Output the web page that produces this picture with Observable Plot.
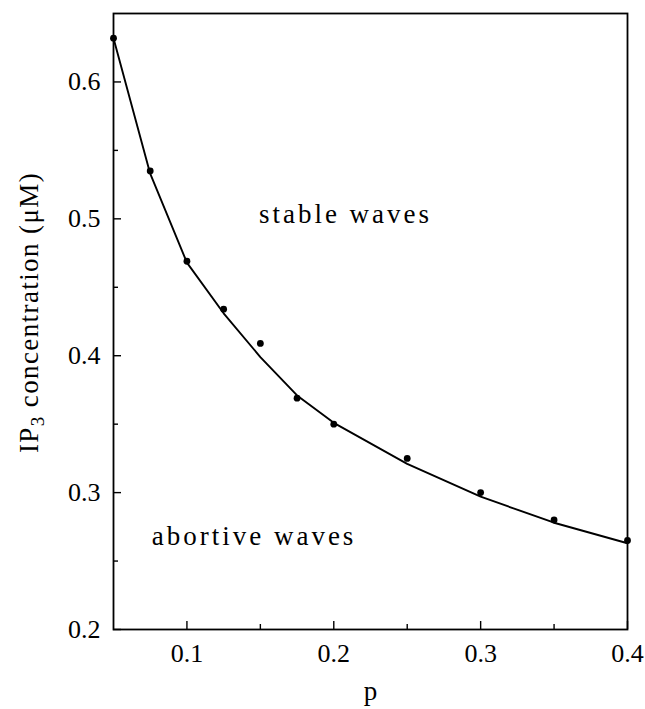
<!DOCTYPE html>
<html>
<head>
<meta charset="utf-8">
<script src="https://cdn.jsdelivr.net/npm/d3@7"></script>
<script src="https://cdn.jsdelivr.net/npm/@observablehq/plot@0.6"></script>
<style>
  html, body { margin: 0; padding: 0; background: white; }
  .region text { letter-spacing: 3px; }
  .ylabel text { letter-spacing: 1.4px; }
</style>
</head>
<body>
<div id="chart"></div>
<script>
// Data
const pValues = [0.05, 0.075, 0.1, 0.125, 0.15, 0.175, 0.2, 0.25, 0.3, 0.35, 0.4];
const ip3Measured = [0.632, 0.535, 0.469, 0.434, 0.409, 0.369, 0.350, 0.325, 0.300, 0.280, 0.265];
const ip3Fit = [0.632, 0.533, 0.468, 0.431, 0.399, 0.371, 0.351, 0.321, 0.297, 0.278, 0.263];

const xMajorTicks = [0.1, 0.2, 0.3, 0.4];
const xMinorTicks = [0.15, 0.25, 0.35];
const yMajorTicks = [0.2, 0.3, 0.4, 0.5, 0.6];
const yMinorTicks = [0.25, 0.35, 0.45, 0.55];

const regionLabels = ["stable waves", "abortive waves"];
const regionX = [0.149, 0.076];
const regionY = [0.503, 0.268];

const xLabel = "p";
const yLabel = "IP3 concentration (μM)";

const measured = pValues.map((p, i) => ({p, c: ip3Measured[i]}));
const fit = pValues.map((p, i) => ({p, c: ip3Fit[i]}));
const regions = regionLabels.map((t, i) => ({t, x: regionX[i], y: regionY[i]}));

const W = 645, H = 709;
const mL = 113, mR = 18, mT = 13, mB = 80;
const innerW = W - mL - mR, innerH = H - mT - mB;

const chart = Plot.plot({
  width: W,
  height: H,
  marginLeft: mL,
  marginRight: mR,
  marginTop: mT,
  marginBottom: mB,
  style: {fontFamily: "'Liberation Serif', 'Times New Roman', serif", fontSize: "26px", background: "white", color: "black"},
  x: {domain: [0.05, 0.4]},
  y: {domain: [0.2, 0.65]},
  marks: [
    Plot.axisX({ticks: xMajorTicks, tickSize: 0, tickPadding: 14, tickFormat: d3.format(".1f"), label: null}),
    Plot.axisY({ticks: yMajorTicks, tickSize: 0, tickPadding: 13, tickFormat: d3.format(".1f"), label: null}),
    Plot.ruleX(xMajorTicks, {x: d => d, insetTop: innerH - 8, strokeWidth: 1.4}),
    Plot.ruleX(xMinorTicks, {x: d => d, insetTop: innerH - 5, strokeWidth: 1.4}),
    Plot.ruleY(yMajorTicks, {y: d => d, insetRight: innerW - 8, strokeWidth: 1.4}),
    Plot.ruleY(yMinorTicks, {y: d => d, insetRight: innerW - 5, strokeWidth: 1.4}),
    Plot.line(fit, {x: "p", y: "c", stroke: "black", strokeWidth: 1.9}),
    Plot.dot(measured, {x: "p", y: "c", r: 3.4, fill: "black", stroke: "none"}),
    Plot.text(regions, {x: "x", y: "y", text: "t", textAnchor: "start", fontSize: 27, fill: "black", className: "region"}),
    Plot.text([xLabel], {text: d => d, frameAnchor: "bottom", dy: 70, fontSize: 27, fill: "black"}),
    Plot.text([yLabel], {text: d => d, frameAnchor: "left", textAnchor: "middle", dx: -84, dy: -9, rotate: -90, fontSize: 27, fill: "black", className: "ylabel"}),
    Plot.frame({stroke: "black", strokeWidth: 1.8})
  ]
});

// Subscript the "3" in IP3
chart.querySelectorAll("text").forEach(t => {
  if (t.textContent === yLabel) {
    while (t.firstChild) t.removeChild(t.firstChild);
    const ns = "http://www.w3.org/2000/svg";
    t.appendChild(document.createTextNode("IP"));
    const sub = document.createElementNS(ns, "tspan");
    sub.setAttribute("dy", "6");
    sub.setAttribute("font-size", "19");
    sub.textContent = "3";
    t.appendChild(sub);
    const rest = document.createElementNS(ns, "tspan");
    rest.setAttribute("dy", "-6");
    rest.textContent = " concentration (μM)";
    t.appendChild(rest);
  }
});

document.getElementById("chart").appendChild(chart);
</script>
</body>
</html>
